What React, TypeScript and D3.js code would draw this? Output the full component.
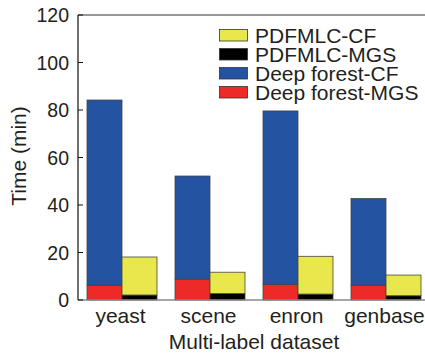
import React from "react";
import * as d3 from "d3";

const categories = ["yeast", "scene", "enron", "genbase"];
const deepForestMGS = [6.2, 8.8, 6.5, 6.2];
const deepForestCF = [78.0, 43.4, 73.1, 36.5];
const pdfmlcMGS = [2.1, 2.7, 2.5, 1.8];
const pdfmlcCF = [16.0, 9.0, 15.9, 8.7];
const yTicks = [0, 20, 40, 60, 80, 100, 120];

const legendItems = [
  { label: "PDFMLC-CF", color: "#e8e84c" },
  { label: "PDFMLC-MGS", color: "#000000" },
  { label: "Deep forest-CF", color: "#2353a1" },
  { label: "Deep forest-MGS", color: "#ee2a29" },
];

const W = 425, H = 356;
const left = 78, right = 430, top = 15, bottom = 300;
const FONT = "'Liberation Sans', Arial, sans-serif";

function SText({ x, y, anchor = "start", rotate = 0, children, fs = 21 }: any) {
  return (
    <g transform={`translate(${x},${y}) rotate(${rotate})`}>
      <text textAnchor={anchor} fontFamily={FONT} fontSize={fs} fill="#231f20">
        {children}
      </text>
    </g>
  );
}

export default function App() {
  const y = d3.scaleLinear().domain([0, 120]).range([bottom, top]);
  const x = d3
    .scaleBand<string>()
    .domain(categories)
    .range([left, right])
    .paddingInner(18 / 88)
    .paddingOuter(9 / 88);
  const sub = d3.scaleBand<string>().domain(["DF", "PD"]).range([0, x.bandwidth()]);

  const stroke = "#444";
  const bars: any[] = [];
  categories.forEach((c, i) => {
    const x0 = (x(c) as number);
    const segs = [
      { k: "DF", b: 0, t: deepForestMGS[i], col: legendItems[3].color },
      { k: "DF", b: deepForestMGS[i], t: deepForestMGS[i] + deepForestCF[i], col: legendItems[2].color },
      { k: "PD", b: 0, t: pdfmlcMGS[i], col: legendItems[1].color },
      { k: "PD", b: pdfmlcMGS[i], t: pdfmlcMGS[i] + pdfmlcCF[i], col: legendItems[0].color },
    ];
    segs.forEach((s, j) => {
      bars.push(
        <rect
          key={`${c}-${j}`}
          x={x0 + (sub(s.k) as number)}
          y={y(s.t)}
          width={sub.bandwidth()}
          height={y(s.b) - y(s.t)}
          fill={s.col}
          stroke={stroke}
          strokeWidth={0.8}
        />
      );
    });
  });

  return (
    <svg width={W} height={H} style={{ position: "absolute", left: 0, top: 0, background: "#fff" }}>
      {bars}
      <line x1={left} x2={right} y1={top} y2={top} stroke="#333" strokeWidth={1.2} />
      <line x1={right} x2={right} y1={top} y2={bottom} stroke="#333" strokeWidth={1.2} />
      <line x1={left} x2={right} y1={bottom} y2={bottom} stroke="#888" strokeWidth={1.4} />
      <line x1={left} x2={left} y1={top} y2={bottom} stroke="#111" strokeWidth={1.2} />
      {yTicks.map((t) => (
        <g key={t}>
          <line x1={left} x2={left + 5} y1={y(t)} y2={y(t)} stroke="#111" strokeWidth={1} />
          <SText x={left - 9} y={y(t) + 7} anchor="end" fs={19.5}>{t}</SText>
        </g>
      ))}
      {categories.map((c) => (
        <SText key={c} x={(x(c) as number) + x.bandwidth() / 2 - 1.5} y={323} anchor="middle">{c}</SText>
      ))}
      <SText x={(left + right) / 2} y={348.5} anchor="middle">Multi-label dataset</SText>
      <SText x={26} y={156} anchor="middle" rotate={-90}>Time (min)</SText>
      {legendItems.map((it, i) => (
        <g key={it.label}>
          <rect x={219.5} y={29.5 + i * 19} width={28} height={11.5} fill={it.color} stroke="#333" strokeWidth={0.8} />
          <SText x={255} y={42.5 + i * 19}>{it.label}</SText>
        </g>
      ))}
    </svg>
  );
}
